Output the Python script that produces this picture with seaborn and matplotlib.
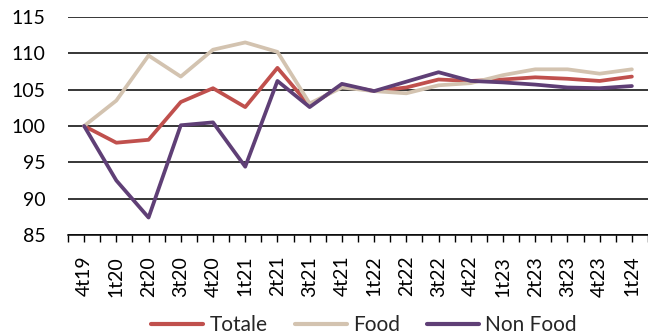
import matplotlib
matplotlib.use("Agg")
import matplotlib.pyplot as plt
import seaborn as sns
import pandas as pd
import numpy as np
from matplotlib.ticker import FixedLocator

categories = ["4t19", "1t20", "2t20", "3t20", "4t20", "1t21", "2t21", "3t21", "4t21",
              "1t22", "2t22", "3t22", "4t22", "1t23", "2t23", "3t23", "4t23", "1t24"]
totale = [100.0, 97.7, 98.1, 103.3, 105.2, 102.6, 108.0, 102.8, 105.6,
          104.8, 105.3, 106.4, 106.2, 106.4, 106.7, 106.5, 106.2, 106.8]
food = [100.0, 103.5, 109.7, 106.8, 110.5, 111.5, 110.2, 103.1, 105.3,
        104.8, 104.5, 105.6, 105.9, 107.0, 107.8, 107.8, 107.2, 107.8]
non_food = [100.0, 92.5, 87.4, 100.1, 100.5, 94.4, 106.2, 102.6, 105.8,
            104.8, 106.1, 107.4, 106.2, 106.0, 105.7, 105.3, 105.2, 105.5]
series_names = ["Totale", "Food", "Non Food"]
colors = ["#C0504D", "#D3C3B0", "#5F3F76"]

df = pd.DataFrame({
    "x": list(range(len(categories))) * 3,
    "value": totale + food + non_food,
    "series": [s for s in series_names for _ in categories],
})

sns.set_theme(style="white")
plt.rcParams["font.family"] = ["Lato", "DejaVu Sans"]

fig = plt.figure(figsize=(6.48, 3.36), dpi=100)
ax = fig.add_axes([68/648, 1 - 235/336, 580/648, 218/336])

sns.lineplot(data=df, x="x", y="value", hue="series", hue_order=series_names,
             palette=colors, linewidth=2.7, ax=ax, legend=True)

ax.set_xlim(-0.5, len(categories) - 0.5)
ax.set_ylim(85, 115)
ax.set_yticks([85, 90, 95, 100, 105, 110, 115])
ax.yaxis.grid(True, color="black", linewidth=1.1)
ax.set_axisbelow(True)
for s in ["top", "right", "left"]:
    ax.spines[s].set_visible(False)
ax.spines["bottom"].set_color("black")
ax.spines["bottom"].set_linewidth(1.1)

ax.set_xticks(range(len(categories)))
ax.set_xticklabels(categories, rotation=90, fontsize=14, color="black")
ax.xaxis.set_minor_locator(FixedLocator(np.arange(-0.5, len(categories), 1.0)))
ax.tick_params(axis="x", which="both", direction="out", length=5, width=1, color="black", bottom=True)
ax.tick_params(axis="x", which="major", pad=10)
ax.tick_params(axis="y", length=0, pad=16, labelsize=14, labelcolor="black")
ax.set_xlabel("")
ax.set_ylabel("")

handles, labels = ax.get_legend_handles_labels()
for h in handles:
    h.set_linewidth(3.0)
ax.legend(handles, labels, loc="center", bbox_to_anchor=(364/648, 1 - 325/336),
          bbox_transform=fig.transFigure, ncol=3, frameon=False, fontsize=15,
          handlelength=2.5, handletextpad=0.3, columnspacing=1.3, borderaxespad=0)

fig.savefig("out.png", dpi=100)
